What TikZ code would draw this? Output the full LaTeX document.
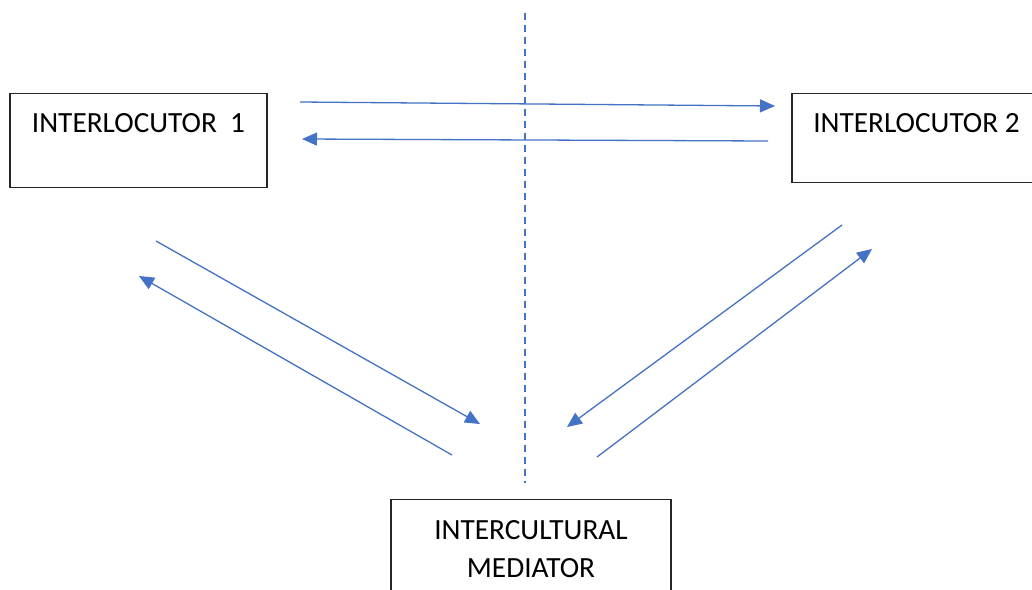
\documentclass[tikz,border=0pt]{standalone}
\usepackage{fontspec}
\setmainfont{Carlito}
\usetikzlibrary{arrows.meta}
\definecolor{arrblue}{HTML}{4472C4}
\tikzset{
  boxnode/.style={draw=black!85, line width=1.1pt, inner xsep=0pt, inner ysep=0pt, anchor=north,
    font=\fontsize{29.3}{38}\selectfont},
  flow/.style={draw=arrblue, line width=1.3pt, -{Triangle[length=15pt,width=13pt]}},
  divider/.style={draw=arrblue, line width=2.2pt, dash pattern=on 7pt off 5pt}
}
\begin{document}
\begin{tikzpicture}[x=1pt,y=-1pt]
\clip (0,0) rectangle (1032,589);
\fill[white] (0,0) rectangle (1032,589);
% boxes
\node[boxnode, minimum width=257pt, text height=39pt, text depth=55pt] (i1) at (138.5,93) {INTERLOCUTOR\ \ 1};
\node[boxnode, minimum width=249pt, text height=39pt, text depth=50pt] (i2) at (916.5,93) {INTERLOCUTOR 2};
\node[boxnode, minimum width=280pt, text height=40pt, text depth=90pt] (med) at (531,499)
  {\begin{tabular}[t]{@{}c@{}}INTERCULTURAL\\MEDIATOR\end{tabular}};
% divider
\coordinate (dtop) at (525,13);
\coordinate (dbot) at (525,483);
\draw[divider] (dtop) -- (dbot);
% horizontal exchanges
\coordinate (a1s) at (300,102);
\coordinate (a1e) at (775,106);
\coordinate (a2s) at (768,141);
\coordinate (a2e) at (302,139);
\draw[flow] (a1s) -- (a1e);
\draw[flow] (a2s) -- (a2e);
% left diagonals
\coordinate (l1s) at (156,241);
\coordinate (l1e) at (480,424);
\coordinate (l2s) at (452,455);
\coordinate (l2e) at (139,276);
\draw[flow] (l1s) -- (l1e);
\draw[flow] (l2s) -- (l2e);
% right diagonals
\coordinate (r1s) at (842,225);
\coordinate (r1e) at (567,427);
\coordinate (r2s) at (597,457);
\coordinate (r2e) at (872,249);
\draw[flow] (r1s) -- (r1e);
\draw[flow] (r2s) -- (r2e);
\end{tikzpicture}
\end{document}
